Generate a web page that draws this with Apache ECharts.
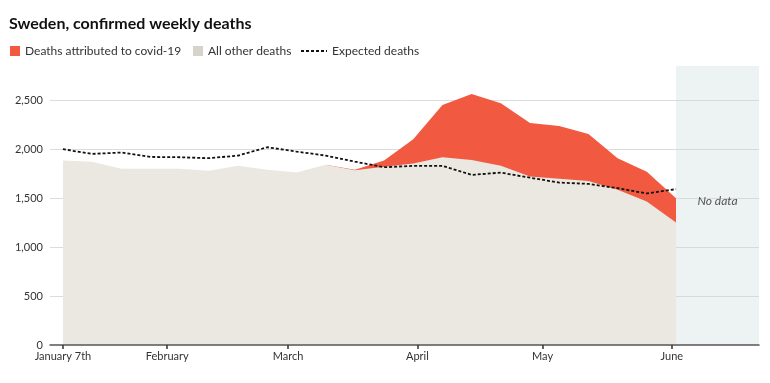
<!DOCTYPE html>
<html>
<head>
<meta charset="utf-8">
<script src="https://cdn.jsdelivr.net/npm/echarts@6/dist/echarts.min.js"></script>
<style>html,body{margin:0;padding:0;background:#fff}#c{width:770px;height:383px}</style>
</head>
<body>
<div id="c"></div>
<script>
// Weekly dates, 2020
const weeks = ['2020-01-07','2020-01-14','2020-01-21','2020-01-28','2020-02-04','2020-02-11','2020-02-18','2020-02-25',
  '2020-03-03','2020-03-10','2020-03-17','2020-03-24','2020-03-31','2020-04-07','2020-04-14','2020-04-21','2020-04-28',
  '2020-05-05','2020-05-12','2020-05-19','2020-05-26','2020-06-02'];
const otherDeaths = [1885,1873,1800,1800,1800,1779,1830,1789,1761,1840,1785,1820,1855,1918,1891,1830,1720,1697,1676,1585,1465,1251];
const covidDeaths = [0,0,0,0,0,0,0,0,0,0,5,65,247,534,673,639,548,540,480,323,306,249];
const expectedDeaths = [2000,1952,1966,1921,1918,1908,1935,2020,1976,1935,1873,1816,1830,1830,1738,1761,1709,1659,1646,1602,1548,1592];
const xTickDates = ['2020-01-07','2020-02-01','2020-03-01','2020-04-01','2020-05-01','2020-06-01'];
const xTickLabels = ['January 7th','February','March','April','May','June'];
const yTicks = [0,500,1000,1500,2000,2500];
const noDataStart = '2020-06-02';
const xMinDay = -3.1;   // axis extent, days from January 7th
const xMaxDay = 166.9;

const DAY = 86400000;
const origin = Date.UTC(2020, 0, 7);
const dayOf = s => (new Date(s + 'T00:00:00Z').getTime() - origin) / DAY;
const tickDays = xTickDates.map(dayOf);
const pair = arr => weeks.map((w, i) => [dayOf(w), arr[i]]);
// Top of the red layer = other deaths + covid deaths (stacked); the layer
// only exists where covid deaths are reported (skip leading all-zero span)
const totalDeaths = otherDeaths.map((v, i) =>
  (covidDeaths[i] === 0 && (covidDeaths[i + 1] || 0) === 0) ? null : v + covidDeaths[i]);

const FONT = 'Lato';
const chart = echarts.init(document.getElementById('c'), null, {renderer: 'canvas'});
chart.setOption({
  animation: false,
  backgroundColor: '#ffffff',
  textStyle: {fontFamily: FONT},
  title: {
    text: 'Sweden, confirmed weekly deaths',
    left: 9, top: 16, padding: 0,
    textStyle: {fontFamily: FONT, fontSize: 16, fontWeight: 'bold', color: '#111'}
  },
  legend: [
    {left: 10, top: 45, padding: 0, itemWidth: 10, itemHeight: 10,
     data: [{name: 'Deaths attributed to covid-19', icon: 'rect'}],
     textStyle: {fontFamily: FONT, fontSize: 12, color: '#333'}},
    {left: 193, top: 45, padding: 0, itemWidth: 10, itemHeight: 10,
     data: [{name: 'All other deaths', icon: 'rect'}],
     textStyle: {fontFamily: FONT, fontSize: 12, color: '#333'}},
    {left: 300, top: 45, padding: 0, itemWidth: 26, itemHeight: 10,
     data: [{name: 'Expected deaths', itemStyle: {color: 'rgba(0,0,0,0)', opacity: 0, borderWidth: 0}}],
     textStyle: {fontFamily: FONT, fontSize: 12, color: '#333'}}
  ],
  grid: {left: 50, right: 11, top: 66, bottom: 38, containLabel: false},
  xAxis: {
    type: 'value', z: 10,
    min: xMinDay, max: xMaxDay,
    axisLine: {lineStyle: {color: '#555', width: 1.5}},
    axisTick: {show: true, length: 4, lineStyle: {color: '#333', width: 1.5}, customValues: tickDays},
    axisLabel: {
      customValues: tickDays, margin: 6, color: '#333', fontSize: 11, fontFamily: FONT,
      formatter: v => { const i = tickDays.indexOf(v); return i >= 0 ? xTickLabels[i] : ''; }
    },
    splitLine: {show: false}
  },
  yAxis: {
    type: 'value', min: 0, max: 2850, interval: 500,
    axisLine: {show: false}, axisTick: {show: false},
    axisLabel: {
      customValues: yTicks, margin: 7, color: '#333', fontSize: 11, fontFamily: FONT,
      formatter: v => v.toLocaleString('en-US')
    },
    splitLine: {show: true, showMaxLine: false, showMinLine: false, lineStyle: {color: '#dcdcdc', width: 1}}
  },
  series: [
    {
      name: 'bandHolder', type: 'line', data: [], silent: true,
      markArea: {
        silent: true,
        itemStyle: {color: 'rgba(200,214,219,0.32)'},
        label: {show: true, position: 'inside', formatter: 'No data', offset: [0, -4],
                fontStyle: 'italic', fontSize: 12, color: '#555', fontFamily: FONT},
        data: [[{xAxis: dayOf(noDataStart)}, {xAxis: xMaxDay}]]
      }
    },
    {
      name: 'Deaths attributed to covid-19', type: 'line', data: pair(totalDeaths),
      symbol: 'none', connectNulls: false, lineStyle: {width: 0}, itemStyle: {color: '#f15a40'},
      areaStyle: {color: '#f15a40', opacity: 1}
    },
    {
      name: 'All other deaths', type: 'line', data: pair(otherDeaths),
      symbol: 'none', lineStyle: {width: 0}, itemStyle: {color: '#d6d3cc'},
      areaStyle: {color: '#ebe8e1', opacity: 1}
    },
    {
      name: 'Expected deaths', type: 'line', data: pair(expectedDeaths), z: 5,
      symbol: 'none', itemStyle: {color: '#111'},
      lineStyle: {color: '#111', width: 1.8, type: [3, 2]}
    }
  ]
});
</script>
</body>
</html>
